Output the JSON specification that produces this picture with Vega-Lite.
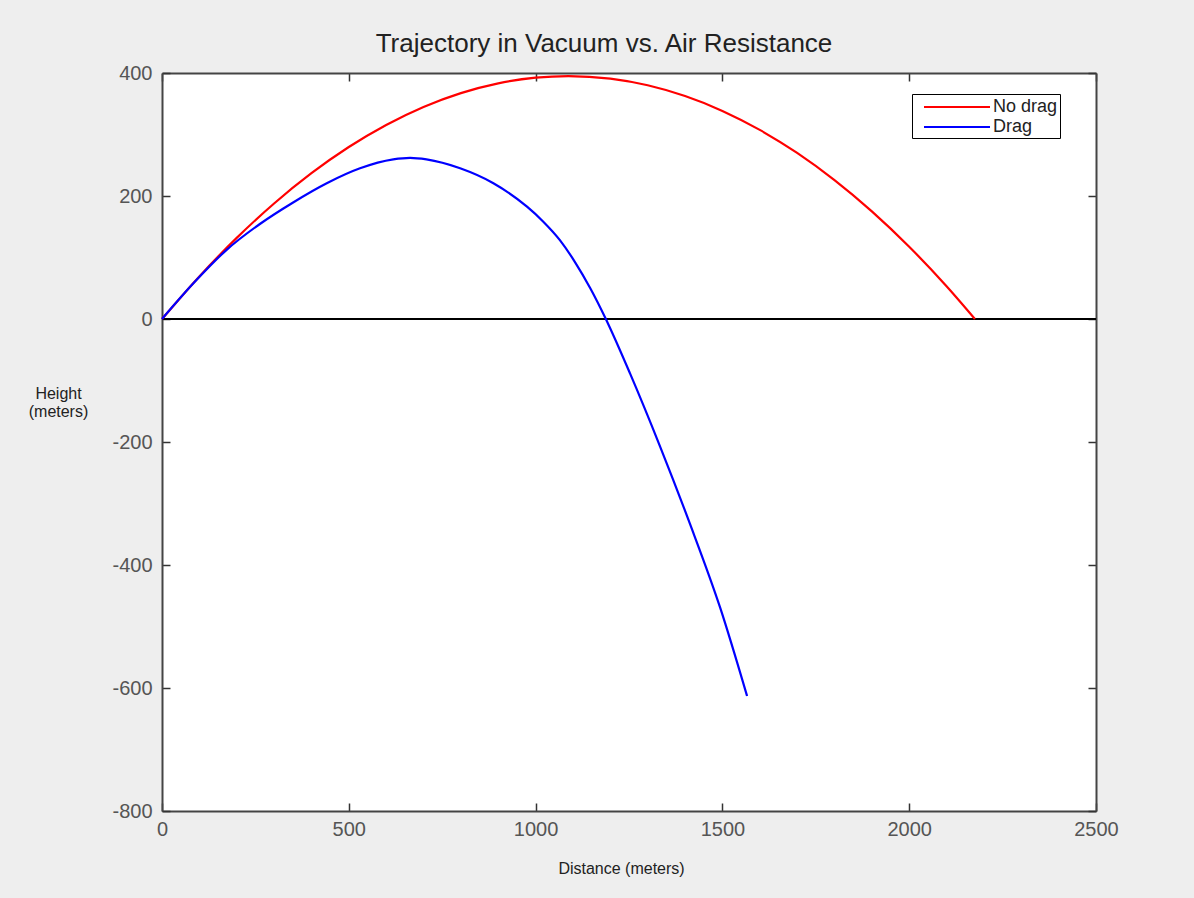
{
  "$schema": "https://vega.github.io/schema/vega-lite/v6.json",
  "width": 934,
  "height": 738,
  "autosize": {"type": "none"},
  "padding": {"left": 162, "top": 73, "right": 98, "bottom": 87},
  "background": "#eeeeee",
  "view": {"fill": "white", "stroke": null},
  "title": {
    "text": "Trajectory in Vacuum vs. Air Resistance",
    "font": "Liberation Sans",
    "fontSize": 26,
    "fontWeight": "normal",
    "color": "#222222",
    "anchor": "middle",
    "frame": "group",
    "dx": -25,
    "dy": 33,
    "baseline": "alphabetic",
    "offset": 18
  },
  "config": {
    "axis": {
      "labelFont": "Liberation Sans",
      "labelFontSize": 20,
      "labelColor": "#555555",
      "labelExpr": "'' + datum.value",
      "labelFlush": false,
      "titleFont": "Liberation Sans",
      "titleFontWeight": "normal",
      "titleColor": "#222222",
      "domainColor": "#444444",
      "domainWidth": 2,
      "tickColor": "#333333",
      "tickWidth": 1.5,
      "tickSize": -8,
      "grid": false
    },
    "legend": {
      "orient": "none",
      "legendX": 750,
      "legendY": 21,
      "strokeColor": "black",
      "fillColor": "white",
      "padding": 2,
      "rowPadding": 0,
      "symbolType": "M-3.3,0H3.3",
      "symbolSize": 400,
      "symbolStrokeWidth": 2,
      "symbolOffset": 32,
      "labelOffset": 25,
      "labelFont": "Liberation Sans",
      "labelFontSize": 18,
      "labelColor": "#222222"
    }
  },
  "data": {
    "values": [
      {"series": "No drag", "x": 0, "y": 0},
      {"series": "No drag", "x": 100, "y": 69.3},
      {"series": "No drag", "x": 200, "y": 131.9},
      {"series": "No drag", "x": 300, "y": 187.8},
      {"series": "No drag", "x": 400, "y": 237.0},
      {"series": "No drag", "x": 500, "y": 279.6},
      {"series": "No drag", "x": 600, "y": 315.5},
      {"series": "No drag", "x": 700, "y": 344.8},
      {"series": "No drag", "x": 800, "y": 367.3},
      {"series": "No drag", "x": 900, "y": 383.2},
      {"series": "No drag", "x": 1000, "y": 392.4},
      {"series": "No drag", "x": 1088, "y": 395.0},
      {"series": "No drag", "x": 1200, "y": 390.8},
      {"series": "No drag", "x": 1300, "y": 380.0},
      {"series": "No drag", "x": 1400, "y": 362.5},
      {"series": "No drag", "x": 1500, "y": 338.4},
      {"series": "No drag", "x": 1600, "y": 307.5},
      {"series": "No drag", "x": 1700, "y": 270.0},
      {"series": "No drag", "x": 1800, "y": 225.8},
      {"series": "No drag", "x": 1900, "y": 175.0},
      {"series": "No drag", "x": 2000, "y": 117.5},
      {"series": "No drag", "x": 2100, "y": 53.3},
      {"series": "No drag", "x": 2176, "y": 0},
      {"series": "Drag", "x": 0, "y": 0},
      {"series": "Drag", "x": 84, "y": 58.0},
      {"series": "Drag", "x": 173, "y": 112.5},
      {"series": "Drag", "x": 262, "y": 154.5},
      {"series": "Drag", "x": 351, "y": 189.5},
      {"series": "Drag", "x": 441, "y": 220.7},
      {"series": "Drag", "x": 530, "y": 245.0},
      {"series": "Drag", "x": 619, "y": 259.5},
      {"series": "Drag", "x": 664, "y": 262.0},
      {"series": "Drag", "x": 708, "y": 259.5},
      {"series": "Drag", "x": 798, "y": 245.0},
      {"series": "Drag", "x": 887, "y": 220.7},
      {"series": "Drag", "x": 977, "y": 182.6},
      {"series": "Drag", "x": 1020, "y": 158.7},
      {"series": "Drag", "x": 1065, "y": 128.3},
      {"series": "Drag", "x": 1105, "y": 93.0},
      {"series": "Drag", "x": 1146, "y": 50.4},
      {"series": "Drag", "x": 1188, "y": 0},
      {"series": "Drag", "x": 1253, "y": -88.9},
      {"series": "Drag", "x": 1333, "y": -207},
      {"series": "Drag", "x": 1413, "y": -332.8},
      {"series": "Drag", "x": 1494, "y": -469.4},
      {"series": "Drag", "x": 1566, "y": -613}
    ]
  },
  "resolve": {"axis": {"x": "independent", "y": "independent"}},
  "layer": [
    {
      "mark": {"type": "rule", "color": "black", "strokeWidth": 2},
      "encoding": {
        "y": {"datum": 0, "type": "quantitative", "axis": null,
              "scale": {"domain": [-800, 400], "nice": false, "zero": false}}
      }
    },
    {
      "mark": {"type": "line", "strokeWidth": 2.2, "interpolate": "monotone"},
      "encoding": {
        "x": {
          "field": "x", "type": "quantitative",
          "scale": {"domain": [0, 2500], "nice": false, "zero": false},
          "axis": {
            "orient": "bottom",
            "values": [0, 500, 1000, 1500, 2000, 2500],
            "title": "Distance (meters)",
            "titleFontSize": 16,
            "titleX": 459,
            "titleY": 62,
            "titleBaseline": "alphabetic",
            "labelPadding": 16
          }
        },
        "y": {
          "field": "y", "type": "quantitative",
          "scale": {"domain": [-800, 400], "nice": false, "zero": false},
          "axis": {
            "orient": "left",
            "values": [-800, -600, -400, -200, 0, 200, 400],
            "title": ["Height", "(meters)"],
            "titleFontSize": 16,
            "titleAngle": 0,
            "titleX": -104,
            "titleY": 325,
            "titleAlign": "center",
            "titleBaseline": "alphabetic",
            "titleLineHeight": 18,
            "labelPadding": 18
          }
        },
        "color": {
          "field": "series", "type": "nominal",
          "scale": {"domain": ["No drag", "Drag"], "range": ["#ff0000", "#0000ff"]},
          "legend": {"title": null}
        }
      }
    },
    {
      "mark": {"type": "line", "strokeOpacity": 0},
      "encoding": {
        "x": {
          "field": "x", "type": "quantitative",
          "axis": {"orient": "top", "values": [0, 500, 1000, 1500, 2000, 2500], "labels": false, "title": null}
        },
        "y": {
          "field": "y", "type": "quantitative",
          "axis": {"orient": "right", "values": [-800, -600, -400, -200, 0, 200, 400], "labels": false, "title": null}
        }
      }
    }
  ]
}
